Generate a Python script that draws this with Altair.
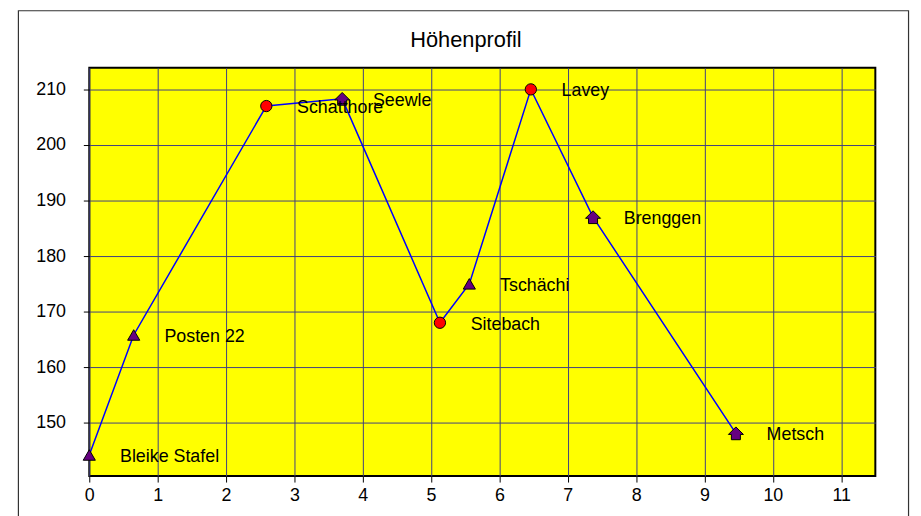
import altair as alt
import pandas as pd

names = ["Bleike Stafel", "Posten 22", "Schatthore", "Seewle", "Sitebach",
         "Tschächi", "Lavey", "Brenggen", "Metsch"]
dist = [0.0, 0.65, 2.59, 3.70, 5.13, 5.56, 6.46, 7.37, 9.46]
height = [144.2, 165.8, 207.0, 208.3, 168.0, 175.0, 210.0, 187.0, 148.1]
kind = ["triangle", "triangle", "circle", "house", "circle",
        "triangle", "circle", "house", "house"]
x_ticks = list(range(0, 12))
y_ticks = [150, 160, 170, 180, 190, 200, 210]
title_text = "Höhenprofil"

df = pd.DataFrame({"name": names, "dist": dist, "h": height, "kind": kind,
                   "order": list(range(len(names)))})

FONT = "Liberation Sans"
HOUSE = "M-1,0.15 L0,-0.85 L1,0.15 L0.6,0.15 L0.6,0.85 L-0.6,0.85 L-0.6,0.15 Z"

xs = alt.X("dist:Q", scale=alt.Scale(domain=[0, 11.5], nice=False, zero=False),
           axis=alt.Axis(values=x_ticks, format="d", title=None, grid=True,
                         gridColor="#404080", gridWidth=1, gridOpacity=1, domain=False,
                         tickColor="#000000", tickSize=6, labelPadding=5, labelFontSize=18,
                         labelFont=FONT, labelColor="#000000", labelFlush=False))
ys = alt.Y("h:Q", scale=alt.Scale(domain=[140.4, 213.9], nice=False, zero=False),
           axis=alt.Axis(values=y_ticks, format="d", title=None, grid=True,
                         gridColor="#404080", gridWidth=1, gridOpacity=1, domain=False,
                         tickColor="#000000", tickSize=6, labelPadding=18, labelFontSize=18,
                         labelFont=FONT, labelColor="#000000", labelFlush=False))

base = alt.Chart(df)

one = alt.Data(values=[{"t": title_text}])

frame = alt.Chart(one).mark_rect(
    fill="transparent", stroke="#333333", strokeWidth=1.2
).encode(x=alt.value(-71.5), x2=alt.value(826.5), y=alt.value(-57.5), y2=alt.value(480))

title = alt.Chart(one).mark_text(font=FONT, fontSize=22, color="#000000",
                                 align="center", baseline="middle").encode(
    x=alt.value(380), y=alt.value(-28), text="t:N")

line = base.mark_line(color="#0000ff", strokeWidth=1.5).encode(
    x=xs, y=ys, order="order:Q")


def marker(k, shape, fill, size):
    return base.transform_filter(alt.datum.kind == k).mark_point(
        shape=shape, filled=True, fill=fill, stroke="#000000", strokeWidth=1,
        opacity=1, size=size
    ).encode(x="dist:Q", y="h:Q")


tri = marker("triangle", "triangle-up", "#660080", 150)
circ = marker("circle", "circle", "#ff0000", 130)
house = marker("house", HOUSE, "#660080", 230)

labels = base.mark_text(align="left", baseline="middle", dx=31, dy=2, fontSize=18,
                        font=FONT, color="#000000").encode(
    x="dist:Q", y="h:Q", text="name:N")

chart = alt.layer(line, tri, circ, house, labels, frame, title).properties(
    width=793, height=412,
    background="#ffffff",
    autosize=alt.AutoSizeParams(type="none"),
    padding={"left": 82, "top": 58, "right": 38, "bottom": 38},
).configure_view(stroke="#000000", strokeWidth=2, fill="#ffff00")

chart.save("out.html", embed_options={"renderer": "svg", "actions": False})
